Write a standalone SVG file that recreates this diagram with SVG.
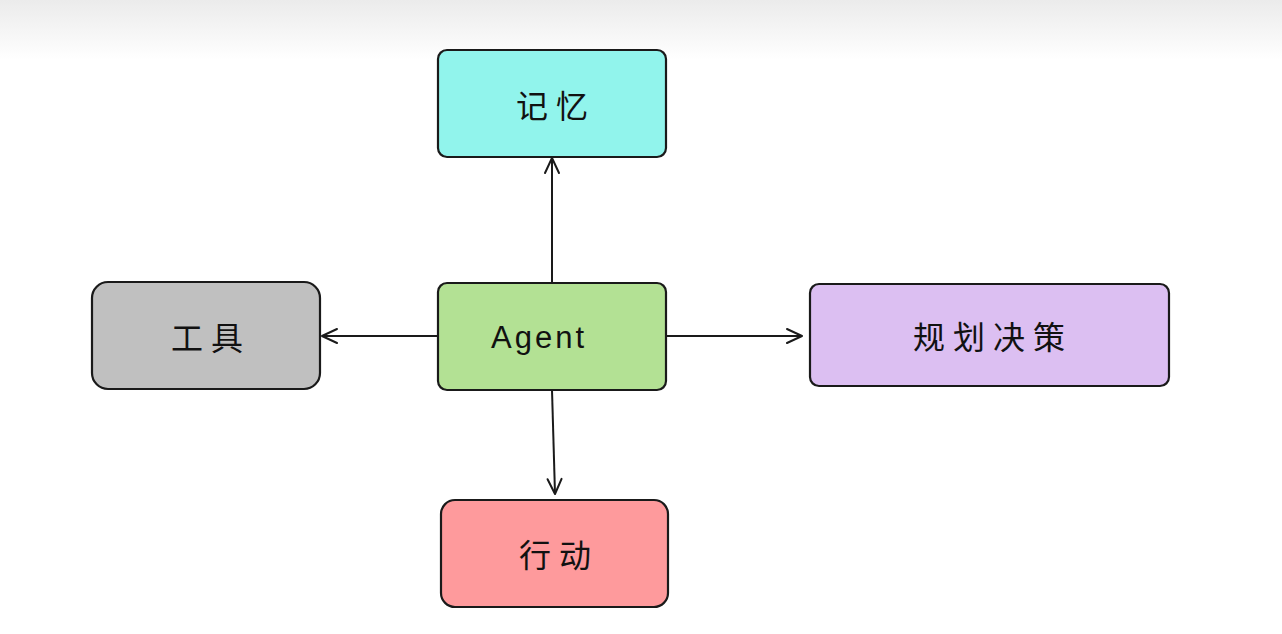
<svg xmlns="http://www.w3.org/2000/svg" width="1282" height="634" viewBox="0 0 1282 634">
<defs>
<linearGradient id="bg" x1="0" y1="0" x2="0" y2="1">
<stop offset="0" stop-color="#ebebeb"/>
<stop offset="1" stop-color="#ffffff"/>
</linearGradient>
<marker id="arr" viewBox="0 0 20 20" refX="18" refY="10" markerWidth="20" markerHeight="20" markerUnits="userSpaceOnUse" orient="auto">
<path d="M3,3 L18,10 L3,17" fill="none" stroke="#1a1a1a" stroke-width="2" stroke-linecap="round" stroke-linejoin="round"/>
</marker>
</defs>
<style>
.box{stroke:#1a1a1a;stroke-width:2.2}
.lbl{font-family:"Noto Sans CJK SC","Noto Sans",sans-serif;font-size:32px;letter-spacing:8px;fill:#111;text-anchor:middle;dominant-baseline:central}
.edge{stroke:#1a1a1a;stroke-width:2;fill:none}
</style>
<rect width="1282" height="634" fill="#ffffff"/>
<rect width="1282" height="60" fill="url(#bg)"/>
<g id="connectors">
<path class="edge" d="M552,283 L552,158" marker-end="url(#arr)"/>
<path class="edge" d="M438,336 L322,336" marker-end="url(#arr)"/>
<path class="edge" d="M666,336 L802,336" marker-end="url(#arr)"/>
<path class="edge" d="M552,390 L555,494" marker-end="url(#arr)"/>
</g>
<g id="memory">
<rect class="box" x="438" y="50" width="228" height="107" rx="9" fill="#91f4ec"/>
<text class="lbl" x="556" y="104">记忆</text>
</g>
<g id="agent">
<rect class="box" x="438" y="283" width="228" height="107" rx="9" fill="#b3e194"/>
<text class="lbl" x="539" y="337" style="font-family:'Liberation Sans','Noto Sans',sans-serif;font-size:31px;letter-spacing:3px">Agent</text>
</g>
<g id="tools">
<rect class="box" x="92" y="282" width="228" height="107" rx="16" fill="#c0c0c0"/>
<text class="lbl" x="211" y="336">工具</text>
</g>
<g id="planning">
<rect class="box" x="810" y="284" width="359" height="102" rx="9" fill="#dcbff2"/>
<text class="lbl" x="993" y="335">规划决策</text>
</g>
<g id="action">
<rect class="box" x="441" y="500" width="227" height="107" rx="14" fill="#fe9a9c"/>
<text class="lbl" x="559" y="553">行动</text>
</g>
</svg>
